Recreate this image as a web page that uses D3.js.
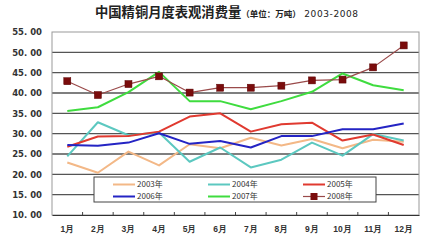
<!DOCTYPE html>
<html>
<head>
<meta charset="utf-8">
<script src="https://cdn.jsdelivr.net/npm/d3@7/dist/d3.min.js"></script>
<style>
  body { margin: 0; background: #fff; }
  svg { display: block; font-family: "Noto Sans CJK SC", "DejaVu Sans", sans-serif; }
</style>
</head>
<body>
<svg id="chart" width="431" height="240"></svg>
<script>
// months on x axis
var months = ["1月", "2月", "3月", "4月", "5月", "6月", "7月", "8月", "9月", "10月", "11月", "12月"];
var yTicks = [10, 15, 20, 25, 30, 35, 40, 45, 50, 55];

// monthly consumption, 10k tonnes
var v2003 = [22.9, 20.4, 25.6, 22.2, 27.4, 26.4, 29.0, 27.1, 28.7, 26.4, 28.5, 28.0];
var v2004 = [24.4, 32.8, 29.6, 30.3, 23.1, 26.6, 21.7, 23.6, 27.8, 24.6, 29.9, 28.3];
var v2005 = [26.8, 29.3, 29.4, 30.5, 34.2, 35.0, 30.5, 32.3, 32.7, 28.3, 29.8, 27.2];
var v2006 = [27.2, 27.0, 27.8, 30.1, 27.5, 28.2, 26.6, 29.4, 29.4, 31.1, 31.1, 32.5];
var v2007 = [35.6, 36.5, 40.2, 45.2, 38.0, 38.0, 36.0, 38.0, 40.3, 44.8, 41.9, 40.7];
var v2008 = [42.9, 39.5, 42.2, 44.1, 40.1, 41.3, 41.3, 41.8, 43.1, 43.3, 46.3, 51.7];

var seriesNames = ["2003年", "2004年", "2005年", "2006年", "2007年", "2008年"];
var seriesColors = ["#f3b887", "#5cc8c0", "#e03a30", "#2424c4", "#3fdc3f", "#9a4a4a"];

var series = [v2003, v2004, v2005, v2006, v2007, v2008].map(function(vals, i) {
    return { name: seriesNames[i], color: seriesColors[i], values: vals };
});

var svg = d3.select("#chart");
var margin = { left: 52, right: 12, top: 32, bottom: 25 };
var width = 431 - margin.left - margin.right;
var height = 240 - margin.top - margin.bottom;

var g = svg.append("g")
    .attr("transform", "translate(" + margin.left + "," + margin.top + ")");

var x = d3.scaleBand().domain(months).range([0, width]);
var y = d3.scaleLinear().domain([10, 55]).range([height, 0]);

// title
var title = svg.append("text")
    .attr("x", 95)
    .attr("y", 17)
    .attr("fill", "#222");
title.append("tspan")
    .attr("font-size", 13.3)
    .attr("font-weight", "bold")
    .text("中国精铜月度表观消费量");
title.append("tspan")
    .attr("font-size", 8.5)
    .attr("font-weight", "bold")
    .text("（单位：万吨）");
title.append("tspan")
    .attr("font-size", 9)
    .attr("font-family", "DejaVu Sans")
    .attr("letter-spacing", 0.6)
    .text(" 2003-2008");

// gridlines
g.selectAll("line.grid")
    .data(yTicks.slice(1, -1))
    .enter().append("line")
    .attr("class", "grid")
    .attr("x1", 0)
    .attr("x2", width)
    .attr("y1", function(d) { return y(d); })
    .attr("y2", function(d) { return y(d); })
    .attr("stroke", "#555")
    .attr("stroke-width", 1.3);

// plot border
g.append("rect")
    .attr("width", width)
    .attr("height", height)
    .attr("fill", "none")
    .attr("stroke", "#999")
    .attr("stroke-width", 1);

// y axis labels
g.append("g")
    .call(d3.axisLeft(y).tickValues(yTicks).tickSize(0).tickPadding(10)
        .tickFormat(function(d) { return d3.format(".2f")(d).replace(".", ". "); }))
    .call(function(a) { a.select(".domain").remove(); })
    .selectAll("text")
    .attr("font-family", "DejaVu Sans")
    .attr("font-weight", "bold")
    .attr("font-size", 8.5)
    .attr("fill", "#333");

// x axis
var xAxis = g.append("g")
    .attr("transform", "translate(0," + height + ")")
    .call(d3.axisBottom(x).tickSize(0).tickPadding(11));
xAxis.select(".domain").attr("stroke", "#333").attr("stroke-width", 1.2);
xAxis.selectAll("text")
    .attr("font-weight", "bold")
    .attr("font-size", 8.5)
    .attr("fill", "#333");

// small ticks between categories
g.selectAll("line.xtick")
    .data(months.slice(1))
    .enter().append("line")
    .attr("class", "xtick")
    .attr("x1", function(d) { return x(d); })
    .attr("x2", function(d) { return x(d); })
    .attr("y1", height)
    .attr("y2", height - 3)
    .attr("stroke", "#444");

var line = d3.line()
    .x(function(d, i) { return x(months[i]) + x.bandwidth() / 2; })
    .y(function(d) { return y(d); });

g.selectAll("path.series")
    .data(series)
    .enter().append("path")
    .attr("class", "series")
    .attr("fill", "none")
    .attr("stroke", function(d) { return d.color; })
    .attr("stroke-width", function(d, i) { return i === 5 ? 1.2 : 2; })
    .attr("stroke-linejoin", "round")
    .attr("d", function(d) { return line(d.values); });

// markers for 2008
g.selectAll("rect.mark")
    .data(v2008)
    .enter().append("rect")
    .attr("class", "mark")
    .attr("x", function(d, i) { return x(months[i]) + x.bandwidth() / 2 - 3.5; })
    .attr("y", function(d) { return y(d) - 3.5; })
    .attr("width", 7)
    .attr("height", 7)
    .attr("fill", "#7a0c0c")
    .attr("stroke", "#5a0000")
    .attr("stroke-width", 0.5);

// legend
var legend = svg.append("g").attr("transform", "translate(94,177)");
legend.append("rect")
    .attr("width", 282)
    .attr("height", 25)
    .attr("fill", "#fff")
    .attr("stroke", "#444")
    .attr("stroke-width", 1);

var item = legend.selectAll("g.item")
    .data(series)
    .enter().append("g")
    .attr("class", "item")
    .attr("transform", function(d, i) {
        return "translate(" + (19 + (i % 3) * 95) + "," + (i < 3 ? 7.5 : 19.5) + ")";
    });
item.append("line")
    .attr("x1", 0).attr("x2", 22)
    .attr("stroke", function(d) { return d.color; })
    .attr("stroke-width", function(d, i) { return i === 5 ? 1.2 : 2; });
item.filter(function(d, i) { return i === 5; })
    .append("rect")
    .attr("x", 7.5).attr("y", -3.5)
    .attr("width", 7).attr("height", 7)
    .attr("fill", "#7a0c0c");
item.append("text")
    .attr("x", 24)
    .attr("dy", "0.35em")
    .attr("font-size", 8)
    .attr("fill", "#333")
    .text(function(d) { return d.name; });
</script>
</body>
</html>
